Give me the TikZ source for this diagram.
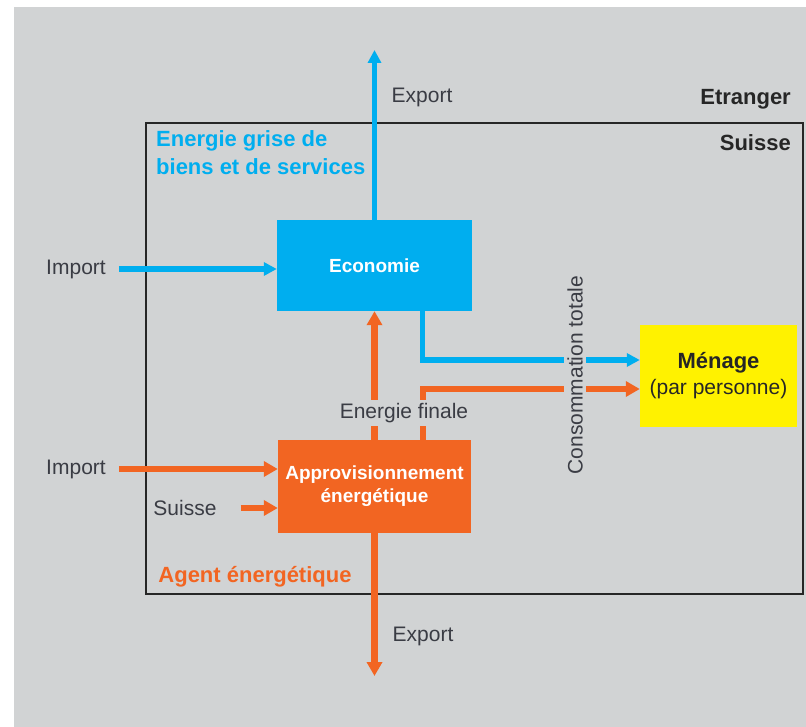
\documentclass[tikz,border=0pt]{standalone}
\usepackage{fontspec}
\setmainfont{Liberation Sans}
\usetikzlibrary{arrows.meta, positioning}

\definecolor{bggrey}{HTML}{D1D3D4}
\definecolor{ecoblue}{HTML}{00AEEF}
\definecolor{agorange}{HTML}{F26522}
\definecolor{hhyellow}{HTML}{FFF200}
\definecolor{txtgrey}{HTML}{3A3C44}

\begin{document}
\begin{tikzpicture}[
    x=1pt, y=-1pt,
    box/.style={rectangle, inner sep=0pt, align=center, text=white, font=\fontsize{19}{23}\selectfont\bfseries},
    lbl/.style={inner sep=1pt, text=txtgrey, font=\fontsize{21}{25}\selectfont},
    title/.style={inner sep=0pt, align=left, font=\fontsize{22}{28}\selectfont\bfseries},
    bluearrow/.style={-{Triangle[length=13pt, width=13pt]}, line width=5.5pt, ecoblue},
    orangearrow/.style={-{Triangle[length=14pt, width=15pt]}, line width=6.5pt, agorange},
]

% background and frame
\useasboundingbox (0,0) rectangle (806,727);
\fill[bggrey] (14,7) rectangle (806,727);
\draw[line width=1.6pt, black!85] (146,123) rectangle (803,594);

% boxes
\node[box, fill=ecoblue, minimum width=195pt, minimum height=91pt] (eco) at (374.5,265.5) {Economie};
\node[box, fill=agorange, minimum width=193pt, minimum height=93pt] (appro) at (374.5,486.5) {Approvisionnement\\énergétique};
\node[box, fill=hhyellow, text=black!85, minimum width=157pt, minimum height=102pt,
      font=\fontsize{21}{26}\selectfont] (menage) at (718.5,376) {{\fontsize{22}{26}\selectfont\bfseries Ménage}\\(par personne)};

% outside labels
\node[lbl] (impEco) at (76,269) {Import};
\node[lbl] (impAppro) at (76,469) {Import};
\node[lbl] (suisseIn) at (185,508) {Suisse};
\node[lbl] (expTop) at (422,97) {Export};
\node[lbl] (expBot) at (423,636) {Export};
\coordinate (ecoOut) at (374.5,50);
\coordinate (approOut) at (374.5,676);

% flows
\draw[bluearrow] (eco.north) -- (ecoOut);
\draw[bluearrow, shorten <=12pt] (impEco.east) -- (impEco.east -| eco.west);
\draw[bluearrow] ([xshift=48pt]eco.south) |- ([yshift=16pt]menage.west);

\draw[orangearrow] (appro.north) -- (eco.south);
\draw[orangearrow] ([xshift=48.5pt]appro.north) |- ([yshift=-13pt]menage.west);
\draw[orangearrow, shorten <=12pt] (impAppro.east) -- (impAppro.east -| appro.west);
\draw[orangearrow, shorten <=23pt] (suisseIn.east) -- (suisseIn.east -| appro.west);
\draw[orangearrow] (appro.south) -- (approOut);

% labels over the flows
\node[lbl, fill=bggrey, inner sep=3pt] (final) at (404,413) {Energie finale};
\node[lbl, fill=bggrey, inner sep=3pt, rotate=90] (conso) at (575,375) {Consommation totale};

% area titles
\node[title, text=ecoblue, anchor=north west] (grise) at (156,130) {Energie grise de\\biens et de services};
\node[title, text=agorange] (agent) at (255,577) {Agent énergétique};
\node[title, text=black!85, anchor=east] (etranger) at (791,99) {Etranger};
\node[title, text=black!85, anchor=east] (suisse) at (791,143) {Suisse};

\end{tikzpicture}
\end{document}
